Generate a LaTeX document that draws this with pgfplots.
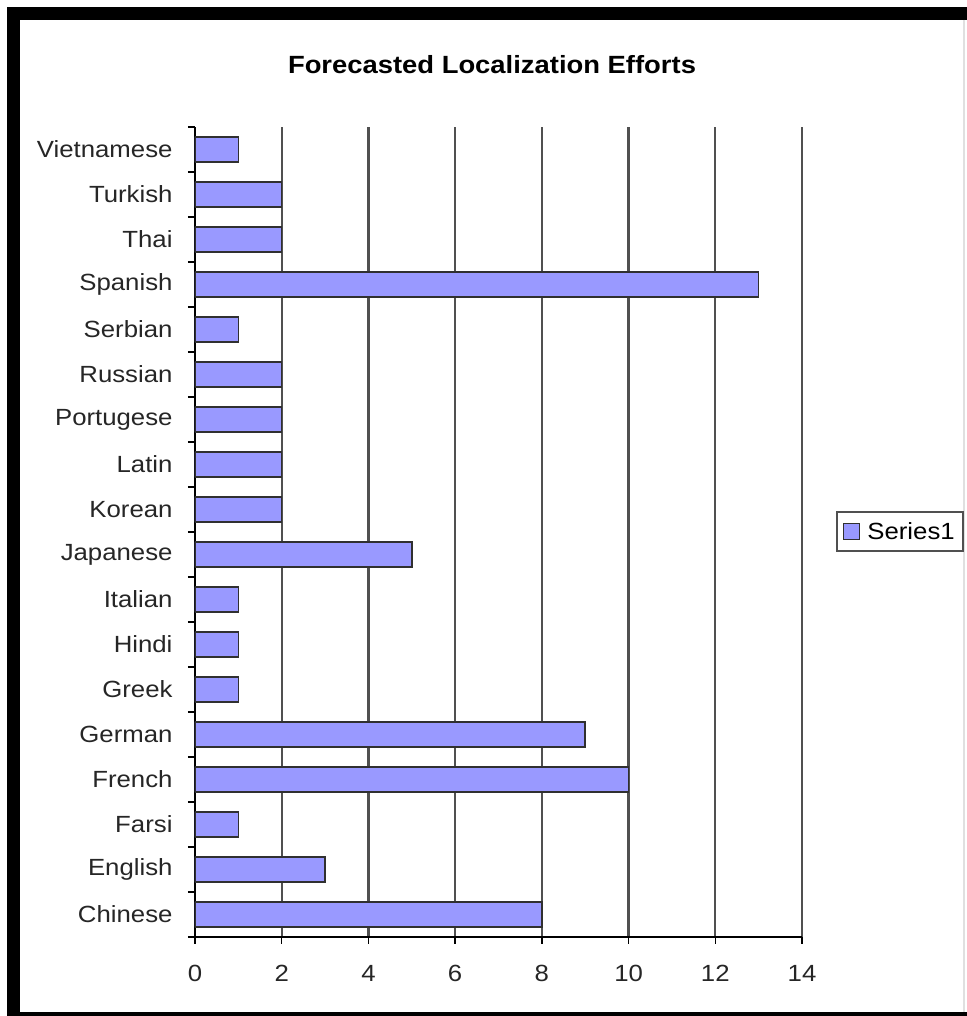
\documentclass[border=0pt]{standalone}
\usepackage{fontspec}
\setmainfont{Liberation Sans}[FakeStretch=1.1]
\usepackage{pgfplots}
\pgfplotsset{compat=1.18}
\definecolor{barfill}{HTML}{9999FF}
\definecolor{baredge}{HTML}{303030}
\definecolor{gridc}{HTML}{505050}
\newcommand{\lblfont}{\fontsize{23.5}{27}\selectfont}
\begin{document}
\begin{tikzpicture}[x=1bp,y=1bp]
\useasboundingbox (-195,-79) rectangle (772,937);
\fill[white] (-195,-79) rectangle (772,937);
% outer frame
\fill[black] (-188,930) rectangle (772,917);
\fill[black] (-188,930) rectangle (-175,-79);
\fill[black] (-188,-75) rectangle (772,-79);
\draw[black!12, line width=1.5bp] (769,917) -- (769,-75);
\begin{axis}[
  at={(0,0)}, anchor=south west,
  width=607bp, height=810bp, scale only axis,
  xmin=0, xmax=14, ymin=-0.5, ymax=17.5,
  xbar, bar width=25bp,
  axis x line*=bottom, axis y line*=left,
  axis line style={black, line width=1.5bp},
  xtick={0,2,...,14}, minor xtick={0,2,...,14},
  ytick={0,...,17},
  yticklabels={Chinese,English,Farsi,French,German,Greek,Hindi,Italian,Japanese,Korean,Latin,Portugese,Russian,Serbian,Spanish,Thai,Turkish,Vietnamese},
  minor ytick={-0.5,0.5,...,17.5},
  major tick length=0bp, minor tick length=7bp,
  tick align=outside,
  minor tick style={black, line width=1.5bp},
  xmajorgrids, major grid style={gridc, line width=2.2bp},
  /pgf/number format/assume math mode=true,
  tick label style={font=\lblfont, text=black!85},
  xticklabel style={yshift=-25bp},
  yticklabel style={xshift=-19bp},
  title={\textbf{Forecasted Localization Efforts}},
  title style={at={(0.4893,1.0691)}, anchor=center, font=\fontsize{25}{29}\selectfont},
  legend style={at={(1.056,0.5006)}, anchor=west, draw=gridc, line width=1.8bp,
    font=\lblfont, inner xsep=6bp, inner ysep=8bp},
  legend image code/.code={\fill[barfill, draw=baredge, line width=1bp] (0bp,-8bp) rectangle (16bp,8bp);
    \path[draw=none, fill=none] (0bp,0bp) -- (22bp,0bp);},
]
\addplot[fill=barfill, draw=baredge, line width=1.5bp] coordinates {
  (8,0) (3,1) (1,2) (10,3) (9,4) (1,5) (1,6) (1,7) (5,8)
  (2,9) (2,10) (2,11) (2,12) (1,13) (13,14) (2,15) (2,16) (1,17)
};
\addlegendentry{Series1}
\end{axis}
\end{tikzpicture}
\end{document}
